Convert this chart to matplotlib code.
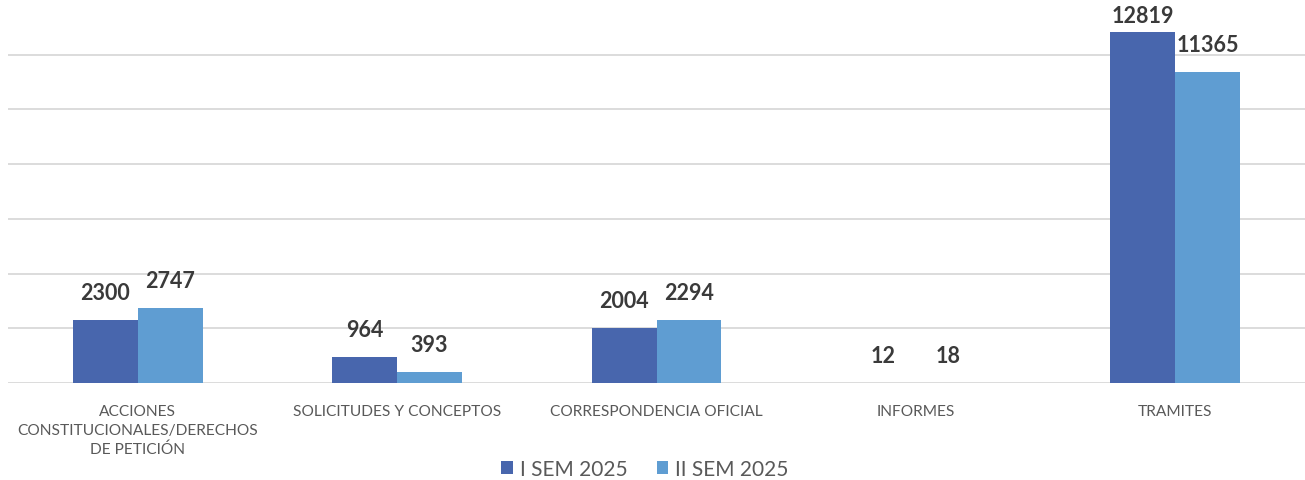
import numpy as np
import matplotlib.pyplot as plt

# Data
categories = ['ACCIONES\nCONSTITUCIONALES/DERECHOS\nDE PETICIÓN',
              'SOLICITUDES Y CONCEPTOS',
              'CORRESPONDENCIA OFICIAL',
              'INFORMES',
              'TRAMITES']
sem1 = [2300, 964, 2004, 12, 12819]
sem2 = [2747, 393, 2294, 18, 11365]
series_names = ['I SEM 2025', 'II SEM 2025']

plt.rcParams['font.family'] = ['Lato', 'DejaVu Sans']

fig = plt.figure(figsize=(13.05, 4.81), dpi=100)
ax = fig.add_axes([8 / 1305, 97 / 481, 1297 / 1305, 383 / 481])

x = np.arange(len(categories))
bar_width = 0.25
colors = ['#4866AD', '#5F9DD2']

b1 = ax.bar(x - bar_width / 2, sem1, bar_width, color=colors[0], label=series_names[0], zorder=3)
b2 = ax.bar(x + bar_width / 2, sem2, bar_width, color=colors[1], label=series_names[1], zorder=3)

ax.set_xlim(-0.5, len(categories) - 0.5)
ax.set_ylim(0, 14000)

# Value labels above the bars, kept inside the plot area
for bars, vals in [(b1, sem1), (b2, sem2)]:
    for bar, v in zip(bars, vals):
        y = min(v + 620, 13060)
        ax.text(bar.get_x() + bar.get_width() / 2, y, str(v),
                ha='center', va='bottom', fontsize=15.5, fontweight='bold',
                color='#3A3A3A', zorder=4)

# Gridlines
ax.set_yticks(np.arange(0, 14000, 2000))
ax.yaxis.grid(True, color='#D9D9D9', linewidth=1.3, zorder=0)
ax.tick_params(axis='y', left=False, labelleft=False)
for spine in ax.spines.values():
    spine.set_visible(False)

ax.set_xticks(x)
ax.set_xticklabels(categories, fontsize=11.2, color='#595959', linespacing=1.45)
ax.tick_params(axis='x', length=0, pad=15)

fig.legend(handles=[b1, b2], labels=series_names, loc='center',
           bbox_to_anchor=(645 / 1305, 1 - 470 / 481), ncol=2, frameon=False,
           fontsize=15, labelcolor='#595959', handlelength=0.55, handleheight=0.55,
           handletextpad=0.35, columnspacing=1.4, borderpad=0.1)

plt.savefig('out.png', dpi=100)
